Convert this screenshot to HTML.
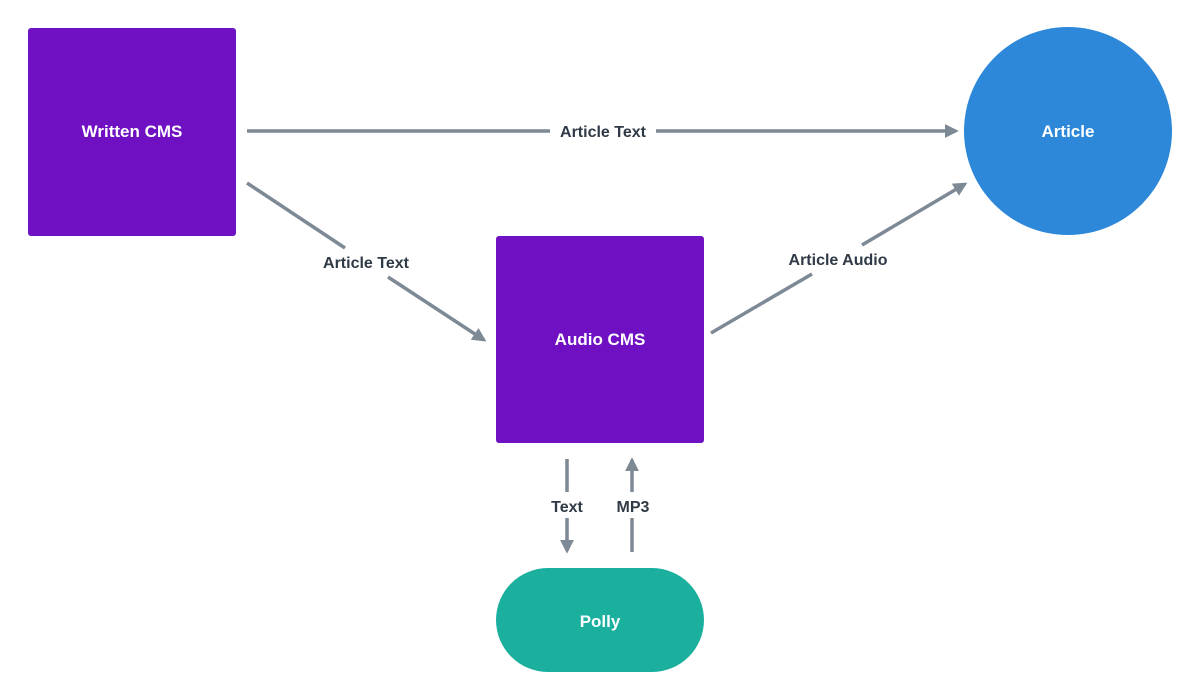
<!DOCTYPE html>
<html><head><meta charset="utf-8"><style>
html,body{margin:0;padding:0;background:#fff;width:1200px;height:699px;overflow:hidden}
text{font-family:"Liberation Sans","DejaVu Sans",sans-serif}
</style></head><body>
<svg width="1200" height="699" viewBox="0 0 1200 699" xmlns="http://www.w3.org/2000/svg">
<defs>
<marker id="a" viewBox="0 0 10 10" refX="8" refY="5" markerWidth="4" markerHeight="4" orient="auto-start-reverse" markerUnits="strokeWidth">
<path d="M0,0 L10,5 L0,10 z" fill="#7d8995"/>
</marker>
</defs>
<rect x="28" y="28" width="208" height="208" rx="3" fill="#6f10c2"/>
<text x="132" y="137" text-anchor="middle" fill="#fff" font-size="17" font-weight="bold">Written CMS</text>
<circle cx="1068" cy="131" r="104" fill="#2d88da"/>
<text x="1068" y="137" text-anchor="middle" fill="#fff" font-size="17" font-weight="bold">Article</text>
<rect x="496" y="236" width="208" height="207" rx="3" fill="#6f10c2"/>
<text x="600" y="345" text-anchor="middle" fill="#fff" font-size="17" font-weight="bold">Audio CMS</text>
<rect x="496" y="568" width="208" height="104" rx="52" fill="#1bb09e"/>
<text x="600" y="627" text-anchor="middle" fill="#fff" font-size="17" font-weight="bold">Polly</text>
<g stroke="#7d8995" stroke-width="3.5" fill="none">
<line x1="247" y1="131" x2="550" y2="131"/>
<line x1="656" y1="131" x2="956" y2="131" marker-end="url(#a)"/>
<line x1="247" y1="183" x2="345" y2="248"/>
<line x1="388" y1="277" x2="484" y2="340" marker-end="url(#a)"/>
<line x1="711" y1="333" x2="812" y2="274"/>
<line x1="862" y1="245" x2="965" y2="184" marker-end="url(#a)"/>
<line x1="567" y1="459" x2="567" y2="492"/>
<line x1="567" y1="518" x2="567" y2="551" marker-end="url(#a)"/>
<line x1="632" y1="552" x2="632" y2="518"/>
<line x1="632" y1="492" x2="632" y2="460" marker-end="url(#a)"/>
</g>
<g fill="#2f3a46" font-size="16" font-weight="bold" text-anchor="middle">
<text x="603" y="137">Article Text</text>
<text x="366" y="268">Article Text</text>
<text x="838" y="265">Article Audio</text>
<text x="567" y="512">Text</text>
<text x="633" y="512">MP3</text>
</g>
</svg>
</body></html>
